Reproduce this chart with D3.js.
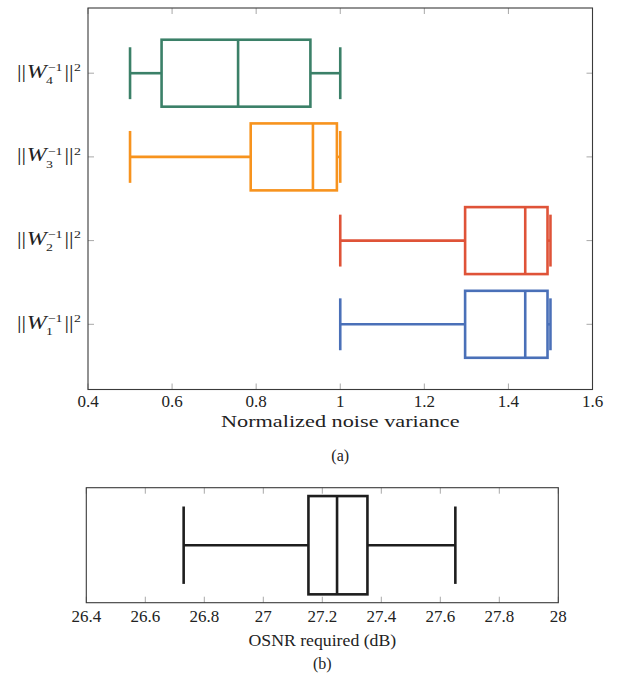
<!DOCTYPE html>
<html><head><meta charset="utf-8">
<script src="https://cdn.jsdelivr.net/npm/d3@7/dist/d3.min.js"></script>
<style>
html,body{margin:0;padding:0;background:#fff;}
</style></head>
<body>
<svg id="chart" width="628" height="682" style="font-family:'Liberation Serif','Times New Roman',serif"></svg>
<script>
// ---- data: panel (a) ----
const categories = ["1", "2", "3", "4"];          // subscript index of ||W_i^{-1}||^2
const colors = ["#4a70b8", "#df5338", "#f7931e", "#3b8068"];
const lowerWhisker = [1.0, 1.0, 0.5, 0.5];
const lowerQuartile = [1.297, 1.297, 0.787, 0.575];
const median = [1.44, 1.44, 0.935, 0.757];
const upperQuartile = [1.493, 1.493, 0.992, 0.929];
const upperWhisker = [1.5, 1.5, 1.0, 1.0];
const xTicksA = [0.4, 0.6, 0.8, 1.0, 1.2, 1.4, 1.6];
const xLabelA = "Normalized noise variance";
const captionA = "(a)";

// ---- data: panel (b) ----
const osnr = {lw: 26.73, lq: 27.153, med: 27.25, uq: 27.353, uw: 27.651};
const xTicksB = [26.4, 26.6, 26.8, 27.0, 27.2, 27.4, 27.6, 27.8, 28.0];
const xLabelB = "OSNR required (dB)";
const captionB = "(b)";

const FONT = "'Liberation Serif','Times New Roman',serif";
const svg = d3.select("#chart");
const FS = 17;

function txt(sel) {
  return sel.append("text").style("font-family", FONT).attr("fill", "#222");
}

function frameAndTicks(g, x, y, w, h, xt, yt, labelDy) {
  const tickLen = 6;
  const tg = g.append("g").attr("stroke", "#a8a8a8").attr("stroke-width", 1);
  xt.forEach(v => {
    const px = x(v);
    tg.append("line").attr("x1", px).attr("x2", px).attr("y1", h).attr("y2", h - tickLen);
    tg.append("line").attr("x1", px).attr("x2", px).attr("y1", 0).attr("y2", tickLen);
  });
  (yt || []).forEach(v => {
    const py = y(v);
    tg.append("line").attr("x1", 0).attr("x2", tickLen).attr("y1", py).attr("y2", py);
    tg.append("line").attr("x1", w).attr("x2", w - tickLen).attr("y1", py).attr("y2", py);
  });
  g.append("rect").attr("x", 0).attr("y", 0).attr("width", w).attr("height", h)
    .attr("fill", "none").attr("stroke", "#3a3a3a").attr("stroke-width", 1.1);
  const fmt = d3.format("~g");
  const lg = g.append("g");
  xt.forEach(d => {
    txt(lg).attr("x", x(d)).attr("y", h + labelDy).attr("text-anchor", "middle")
      .attr("font-size", FS).text(fmt(d));
  });
}

function drawBox(g, x, y, d, color, halfBox, halfCap) {
  const c = y(d.pos);
  const bg = g.append("g").attr("stroke", color).attr("stroke-width", 2.6).attr("fill", "none");
  bg.append("line").attr("x1", x(d.lw)).attr("x2", x(d.lq)).attr("y1", c).attr("y2", c);
  bg.append("line").attr("x1", x(d.uq)).attr("x2", x(d.uw)).attr("y1", c).attr("y2", c);
  bg.append("line").attr("x1", x(d.lw)).attr("x2", x(d.lw)).attr("y1", y(d.pos - halfCap)).attr("y2", y(d.pos + halfCap));
  bg.append("line").attr("x1", x(d.uw)).attr("x2", x(d.uw)).attr("y1", y(d.pos - halfCap)).attr("y2", y(d.pos + halfCap));
  bg.append("rect").attr("x", x(d.lq)).attr("y", y(d.pos + halfBox))
    .attr("width", x(d.uq) - x(d.lq)).attr("height", y(d.pos - halfBox) - y(d.pos + halfBox));
  bg.append("line").attr("x1", x(d.med)).attr("x2", x(d.med)).attr("y1", y(d.pos - halfBox)).attr("y2", y(d.pos + halfBox));
}

// ---------- panel (a) ----------
const A = {left: 88, top: 8, w: 504.5, h: 381.5};
const gA = svg.append("g").attr("transform", `translate(${A.left},${A.top})`);
const xA = d3.scaleLinear().domain([0.4, 1.6]).range([0, A.w]);
const yA = d3.scaleLinear().domain([0.221, 4.779]).range([A.h, 0]);
const positions = categories.map((c, i) => i + 1);
frameAndTicks(gA, xA, yA, A.w, A.h, xTicksA, positions, 17.5);
categories.forEach((c, i) => {
  drawBox(gA, xA, yA, {pos: i + 1, lw: lowerWhisker[i], lq: lowerQuartile[i], med: median[i],
    uq: upperQuartile[i], uw: upperWhisker[i]}, colors[i], 0.4, 0.31);
});
txt(gA).attr("x", A.w / 2 - 119.3).attr("y", A.h + 37.5)
  .attr("font-size", 17.5).attr("textLength", 238.6).attr("lengthAdjust", "spacingAndGlyphs").text(xLabelA);
txt(gA).attr("x", A.w / 2).attr("y", A.h + 71).attr("text-anchor", "middle")
  .attr("font-size", 16).text(captionA);

// y labels ||W_i^{-1}||^2
categories.forEach((c, i) => {
  const py = A.top + yA(i + 1) + 4.5;
  const outer = svg.append("g");
  const lg = outer.append("g");
  let cx = 0;
  const t1 = txt(lg).attr("x", cx).attr("font-size", 18).text("||");
  cx += t1.node().getComputedTextLength() + 0.5;
  const tW = txt(lg).attr("x", cx).attr("font-size", 19).attr("font-style", "italic").text("W");
  cx += tW.node().getComputedTextLength();
  const sup = txt(lg).attr("x", cx + 1).attr("y", -6.8).attr("font-size", 11).text("\u22121");
  const sub = txt(lg).attr("x", cx - 0.5).attr("y", 6.2).attr("font-size", 11).text(c);
  cx += Math.max(sup.node().getComputedTextLength() + 1, sub.node().getComputedTextLength()) + 1.5;
  const t2 = txt(lg).attr("x", cx).attr("font-size", 18).text("||");
  cx += t2.node().getComputedTextLength() + 0.5;
  const t3 = txt(lg).attr("x", cx).attr("y", -6.8).attr("font-size", 11).text("2");
  cx += t3.node().getComputedTextLength();
  const targetLeft = 17, targetRight = 81;
  const k = (targetRight - targetLeft) / cx;
  outer.attr("transform", `translate(${targetLeft},${py})`);
  lg.attr("transform", `scale(${k},1)`);
});

// ---------- panel (b) ----------
const B = {left: 86.3, top: 487.7, w: 472, h: 115};
const gB = svg.append("g").attr("transform", `translate(${B.left},${B.top})`);
const xB = d3.scaleLinear().domain([26.4, 28.0]).range([0, B.w]);
const yB = d3.scaleLinear().domain([0.532, 1.468]).range([B.h, 0]);
frameAndTicks(gB, xB, yB, B.w, B.h, xTicksB, [], 19.5);
drawBox(gB, xB, yB, Object.assign({pos: 1}, osnr), "#1e1e1e", 0.4, 0.315);
txt(gB).attr("x", B.w / 2 - 73.8).attr("y", B.h + 43.8)
  .attr("font-size", 17).attr("textLength", 147.7).attr("lengthAdjust", "spacingAndGlyphs").text(xLabelB);
txt(gB).attr("x", B.w / 2).attr("y", B.h + 66.3).attr("text-anchor", "middle")
  .attr("font-size", 16).text(captionB);
</script>
</body></html>
